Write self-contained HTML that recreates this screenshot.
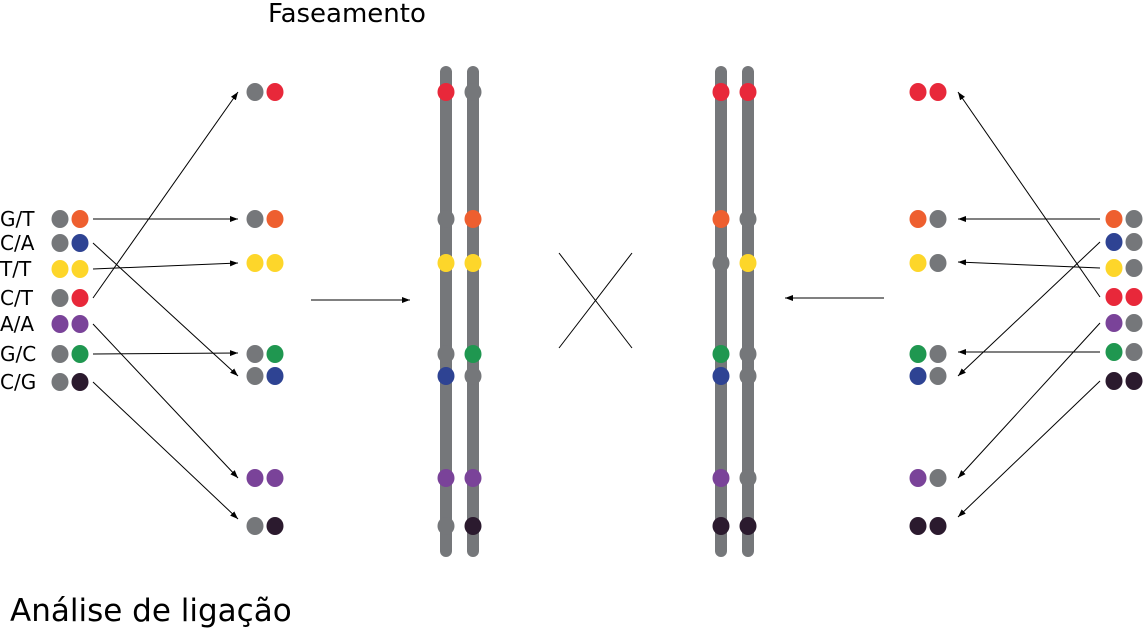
<!DOCTYPE html>
<html><head><meta charset="utf-8"><style>
body{margin:0;background:#fff}
svg{display:block}
text{font-family:"DejaVu Sans","Liberation Sans",sans-serif;fill:#000}
</style></head><body>
<svg id="s" width="1143" height="631" viewBox="0 0 1143 631">
<defs><marker id="ah" markerWidth="8" markerHeight="6" refX="8" refY="3" orient="auto" markerUnits="userSpaceOnUse"><path d="M0,0 L8,3 L0,6 z" fill="#000"/></marker></defs>
<text x="268" y="22" font-size="26">Faseamento</text>
<text x="10" y="621" font-size="31">Análise de ligação</text>
<g id="g"></g>
</svg>
<script>
const C={g:'#75777a',o:'#ee5f2f',b:'#2e4393',y:'#fdd62a',r:'#e8283a',p:'#7a4399',n:'#1f9750',d:'#2b1a2e'};
const labels=['G/T','C/A','T/T','C/T','A/A','G/C','C/G'];
const leftRows=[219,243,269,298,324,354,382];
const leftPairs=['go','gb','yy','gr','pp','gn','gd'];
const rows=[92,219,263,354,376,478,526];
const col2=['gr','go','yy','gn','gb','pp','gd'];
const chrL=['rg','go','yy','gn','bg','pp','gd'];
const chrR=['rr','og','gy','ng','bg','pg','dd'];
const col4=['rr','og','yg','ng','bg','pg','dd'];
const rightRows=[219,242,268,297,323,352,381];
const rightPairs=['og','bg','yg','rr','pg','ng','dd'];
const g=document.getElementById('g');
const NS='http://www.w3.org/2000/svg';
function el(t,a){const e=document.createElementNS(NS,t);for(const k in a)e.setAttribute(k,a[k]);g.appendChild(e);return e;}
[446,473,721,748].forEach((x,i)=>{const e=el('rect',{x:x-6,y:66,width:12,height:491,rx:6,fill:'#75777a'});

});
function dots(xs,ys,pairs,name){ys.forEach((y,i)=>{[0,1].forEach(j=>{const e=el('ellipse',{cx:xs[j],cy:y,rx:8.5,ry:9,fill:C[pairs[i][j]]});

});});}
dots([60,80],leftRows,leftPairs,'genotype');
dots([255,275],rows,col2,'phased-left');
dots([446,473],rows,chrL,'chrom-left');
dots([721,748],rows,chrR,'chrom-right');
dots([918,938],rows,col4,'phased-right');
dots([1114,1134],rightRows,rightPairs,'genotype-right');
labels.forEach((l,i)=>{const t=el('text',{x:0,y:leftRows[i]+7,'font-size':20});t.textContent=l;

});
function arr(x1,y1,x2,y2){const e=el('line',{x1,y1,x2,y2,stroke:'#000','stroke-width':1,'marker-end':'url(#ah)'});

}
const lt=[219,376,263,92,478,353,519];
leftRows.forEach((y,i)=>arr(93,y,238,lt[i]));
const rt=[219,376,262,92,478,352,517];
rightRows.forEach((y,i)=>arr(1100,y,958,rt[i]));
arr(311,300,410,300);arr(884,298,785,298);
[[559,253,632,348],[632,253,559,348]].forEach(c=>{const e=el('line',{x1:c[0],y1:c[1],x2:c[2],y2:c[3],stroke:'#000','stroke-width':1});

});
</script>
</body></html>
